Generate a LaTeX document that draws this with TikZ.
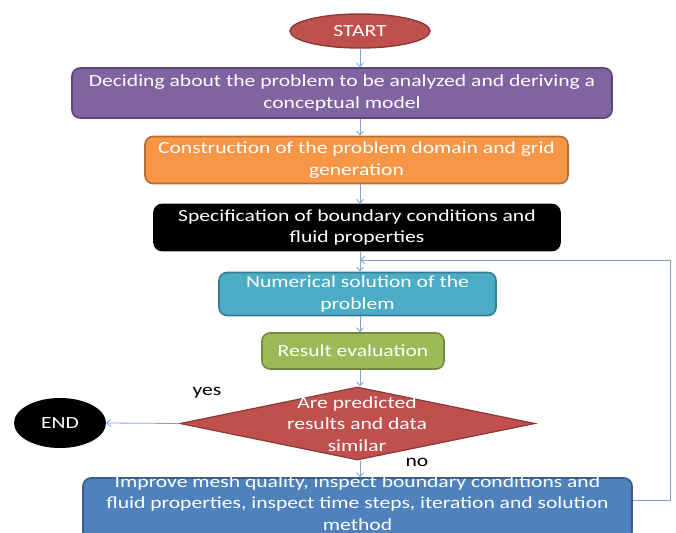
\documentclass[tikz,border=0pt]{standalone}
\usepackage{fontspec}
\setmainfont{Carlito}[FakeStretch=1.27]
\usetikzlibrary{shapes.geometric,arrows.meta}
\definecolor{cred}{HTML}{C0504D}\definecolor{credb}{HTML}{8C3836}
\definecolor{cpur}{HTML}{8064A2}\definecolor{cpurb}{HTML}{5C4776}
\definecolor{cora}{HTML}{F79646}\definecolor{corab}{HTML}{B66D31}
\definecolor{ccya}{HTML}{4BACC6}\definecolor{ccyab}{HTML}{357D91}
\definecolor{cgre}{HTML}{9BBB59}\definecolor{cgreb}{HTML}{71893F}
\definecolor{cblu}{HTML}{4F81BD}\definecolor{cblub}{HTML}{385D8A}
\definecolor{carr}{HTML}{7FA2D2}
\begin{document}
\begin{tikzpicture}[x=1pt,y=-1pt,
  every node/.style={font=\fontsize{17}{21.5}\selectfont},
  box/.style={rectangle,rounded corners=8pt,line width=1.6pt,align=center,inner sep=0pt,text=white},
  txt/.style={align=center,inner sep=0pt,text=white},
  conn/.style={draw=carr,line width=0.8pt,-{Straight Barb[length=4pt,width=7pt]}}]
\useasboundingbox (0,0) rectangle (676,532);
\node[ellipse,fill=cred,draw=credb,line width=1.4pt,minimum width=140pt,minimum height=34pt,inner sep=0pt,text=white] (start) at (360,31) {START};
\node[box,fill=cpur,draw=cpurb,minimum width=540pt,minimum height=50pt] (p1) at (342,93) {Deciding about the problem to be analyzed and deriving a\\conceptual model};
\node[box,fill=cora,draw=corab,minimum width=423pt,minimum height=47pt] (p2) at (356.5,160) {Construction of the problem domain and grid\\generation};
\node[box,fill=black,draw=black,minimum width=406pt,minimum height=46pt] (p3) at (357,227.5) {Specification of boundary conditions and\\fluid properties};
\node[box,fill=ccya,draw=ccyab,minimum width=277pt,minimum height=43pt] (p4) at (357.5,294) {Numerical solution of the\\problem};
\node[box,fill=cgre,draw=cgreb,minimum width=182pt,minimum height=36pt] (p5) at (353,351) {Result evaluation};
\node[diamond,aspect=4.86,fill=cred,draw=credb,line width=1.2pt,minimum width=355pt,minimum height=73pt,inner sep=0pt] (dec) at (357.5,423.5) {};
\node[txt] (dect) at (357,424) {Are predicted\\results and data\\similar};
\node[ellipse,fill=black,minimum width=92pt,minimum height=50pt,inner sep=0pt,text=white] (end) at (60,423) {END};
\node[rectangle,rounded corners=8pt,fill=cblu,draw=cblub,line width=1.6pt,minimum width=549pt,minimum height=62pt,inner sep=0pt] (p6) at (357.5,509) {};
\node[txt] (p6t) at (357.5,503) {Improve mesh quality, inspect boundary conditions and\\fluid properties, inspect time steps, iteration and solution\\method};
\node[inner sep=0pt] (yes) at (207,393) {yes};
\node[inner sep=0pt] (no) at (417,462) {no};
\coordinate (r1) at (670,500);
\coordinate (r2) at (670,260);
\coordinate (r3) at (360,260);
\draw[conn] (start.south) -- (start.south |- p1.north);
\draw[conn] (p1.south -| start.south) -- (start.south |- p2.north);
\draw[conn] (p2.south -| start.south) -- (start.south |- p3.north);
\draw[conn] (p3.south -| start.south) -- (start.south |- p4.north);
\draw[conn] (p4.south -| start.south) -- (start.south |- p5.north);
\draw[conn] (p5.south -| start.south) -- (start.south |- dec.north);
\draw[conn] (dec.south -| start.south) -- (start.south |- p6.north);
\draw[conn] (dec.west) -- (end.east);
\draw[conn] (p6.east |- r1) -- (r1) -- (r2) -- (r3);
\end{tikzpicture}
\end{document}
